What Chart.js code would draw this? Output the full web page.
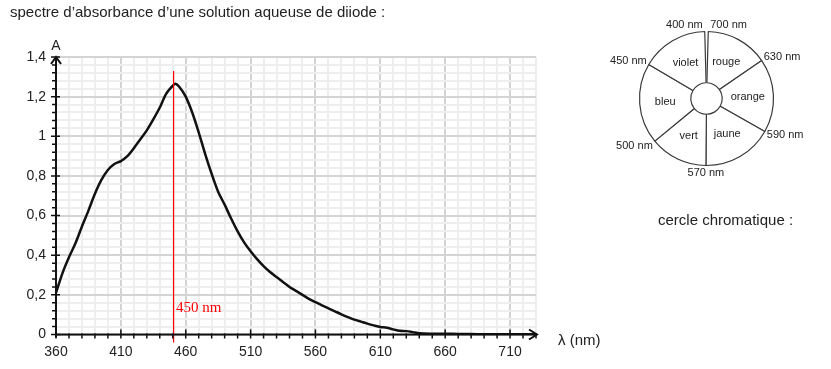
<!DOCTYPE html>
<html>
<head>
<meta charset="utf-8">
<script src="https://cdn.jsdelivr.net/npm/chart.js@4.4.1/dist/chart.umd.min.js"></script>
<style>
  body { margin:0; background:#fff; width:831px; height:369px; overflow:hidden; position:relative; font-family:"Liberation Sans", Arial, sans-serif; color:#222; }
  #spectre { position:absolute; left:0; top:0; }
  #cercle { position:absolute; left:606px; top:0; }
  .txt { position:absolute; font-size:15px; line-height:17px; white-space:nowrap; }
</style>
</head>
<body>
<canvas id="spectre" width="831" height="369"></canvas>
<canvas id="cercle" width="201" height="197"></canvas>
<div class="txt" style="left:10px;top:3px">spectre d’absorbance d’une solution aqueuse de diiode :</div>
<div class="txt" style="left:658px;top:211px">cercle chromatique :</div>
<script>
// spectre
var wavelengths = [360,365,370,375,380,385,390,395,400,405,410,415,420,425,430,435,440,445,450,452,455,460,465,470,475,480,485,490,495,500,505,510,515,520,525,530,535,540,545,550,555,560,565,570,575,580,585,590,595,600,605,610,615,620,625,630,635,640,650,660,670,680,690,700,710,720,730];
var absorbance  = [0.21,0.31,0.39,0.46,0.545,0.625,0.71,0.78,0.83,0.86,0.875,0.9,0.94,0.985,1.03,1.085,1.145,1.215,1.255,1.265,1.25,1.2,1.12,1.02,0.91,0.81,0.72,0.655,0.585,0.52,0.465,0.42,0.38,0.345,0.315,0.29,0.265,0.24,0.22,0.2,0.18,0.163,0.147,0.132,0.117,0.102,0.088,0.075,0.065,0.055,0.046,0.038,0.034,0.026,0.019,0.017,0.012,0.006,0.004,0.004,0.003,0.002,0.001,0.001,0.001,0.001,0.001];

var xTickValues = [360,410,460,510,560,610,660,710];
var yTickValues = [0,0.2,0.4,0.6,0.8,1,1.2,1.4];
var yTickTexts  = ['0','0,2','0,4','0,6','0,8','1','1,2','1,4'];

var peakWavelength = 450;
var peakLabel = '450 nm';

// cercle chromatique
var colorNames = ['rouge','orange','jaune','vert','bleu','violet'];
var sectorSpans = [54,64,61,50,70,58];   // degres
var gapSpan = 3;
var boundaryLabels = ['700 nm','630 nm','590 nm','570 nm','500 nm','450 nm','400 nm'];

function isMajorX(v) { return xTickValues.indexOf(v) >= 0; }
function yIndex(v) {
    for (var i = 0; i < yTickValues.length; i++) {
        if (Math.abs(v - yTickValues[i]) < 1e-6) return i;
    }
    return -1;
}

var axesPlugin = {
    id: 'axes',
    afterDatasetsDraw: function(chart) {
        var ctx = chart.ctx, a = chart.chartArea, xs = chart.scales.x, ys = chart.scales.y;
        ctx.save();
        // trait rouge
        var px = Math.round(xs.getPixelForValue(peakWavelength));
        var top = Math.round(ys.getPixelForValue(1.33));
        ctx.fillStyle = '#ff0000';
        ctx.fillRect(px, top, 1.2, a.bottom + 8 - top);
        ctx.font = '15px "Liberation Serif"';
        ctx.textBaseline = 'middle';
        ctx.fillText(peakLabel, px + 3, ys.getPixelForValue(0.134));

        // axes
        ctx.strokeStyle = '#111';
        ctx.lineWidth = 2;
        ctx.beginPath();
        ctx.moveTo(a.left, a.bottom + 3);
        ctx.lineTo(a.left, a.top);
        ctx.moveTo(a.left, a.bottom);
        ctx.lineTo(a.right + 1, a.bottom);
        ctx.moveTo(a.left - 5, a.top + 7);
        ctx.lineTo(a.left, a.top);
        ctx.lineTo(a.left + 5, a.top + 7);
        ctx.moveTo(a.right - 7, a.bottom - 5);
        ctx.lineTo(a.right + 1, a.bottom);
        ctx.lineTo(a.right - 7, a.bottom + 5);
        ctx.stroke();

        ctx.lineWidth = 1.5;
        ctx.beginPath();
        xs.ticks.forEach(function(t) {
            var x = xs.getPixelForValue(t.value);
            if (isMajorX(t.value)) { ctx.moveTo(x, a.bottom - 5); ctx.lineTo(x, a.bottom + 4); }
            else { ctx.moveTo(x, a.bottom - 1); ctx.lineTo(x, a.bottom + 4); }
        });
        ys.ticks.forEach(function(t) {
            var y = ys.getPixelForValue(t.value);
            if (yIndex(t.value) >= 0) { ctx.moveTo(a.left - 5, y); ctx.lineTo(a.left + 4, y); }
            else { ctx.moveTo(a.left - 4, y); ctx.lineTo(a.left + 1, y); }
        });
        ctx.stroke();

        // noms des axes
        ctx.fillStyle = '#222';
        ctx.font = '14px "Liberation Sans"';
        ctx.textAlign = 'center';
        ctx.fillText('A', a.left, a.top - 11);
        ctx.textAlign = 'left';
        ctx.font = '15px "Liberation Sans"';
        ctx.fillText('λ (nm)', a.right + 22, a.bottom + 6);
        ctx.restore();
    }
};

new Chart(document.getElementById('spectre'), {
    type: 'line',
    data: {
        datasets: [{
            data: wavelengths.map(function(w, i) { return { x: w, y: absorbance[i] }; }),
            borderColor: '#111',
            borderWidth: 2.5,
            pointRadius: 0,
            tension: 0.3,
            fill: false
        }]
    },
    options: {
        responsive: false,
        animation: false,
        layout: { padding: { left: 0, top: 57, right: 295, bottom: 0 } },
        plugins: { legend: { display: false }, tooltip: { enabled: false } },
        scales: {
            x: {
                type: 'linear', min: 360, max: 730,
                afterFit: function(s) { s.height = 34.5; },
                border: { display: false },
                grid: {
                    drawTicks: false,
                    lineWidth: 2,
                    color: function(c) { return isMajorX(c.tick.value) ? '#d4d4d4' : '#eeeeee'; }
                },
                ticks: {
                    stepSize: 10, autoSkip: false, maxRotation: 0, padding: 9,
                    color: '#222', font: { family: 'Liberation Sans', size: 14 },
                    callback: function(v) { return isMajorX(v) ? String(v) : ''; }
                }
            },
            y: {
                min: 0, max: 1.4,
                afterFit: function(s) { s.width = 56; },
                border: { display: false },
                grid: {
                    drawTicks: false,
                    lineWidth: 2,
                    color: function(c) { return yIndex(c.tick.value) >= 0 ? '#d4d4d4' : '#eeeeee'; }
                },
                ticks: {
                    stepSize: 0.04, autoSkip: false, padding: 10,
                    color: '#222', font: { family: 'Liberation Sans', size: 14 },
                    callback: function(v) { var i = yIndex(v); return i >= 0 ? yTickTexts[i] : ''; }
                }
            }
        }
    },
    plugins: [axesPlugin]
});

var cercleLabels = {
    id: 'cercleLabels',
    afterDatasetsDraw: function(chart) {
        var ctx = chart.ctx, arcs = chart.getDatasetMeta(0).data;
        ctx.save();
        ctx.font = '11px "Liberation Sans"';
        ctx.fillStyle = '#222';
        ctx.textAlign = 'center';
        ctx.textBaseline = 'middle';
        for (var i = 1; i < arcs.length; i++) {
            var p = arcs[i].getCenterPoint();
            ctx.fillText(colorNames[i - 1], p.x, p.y);
        }
        var angles = [];
        for (var j = 1; j < arcs.length; j++) angles.push(arcs[j].startAngle);
        angles.push(arcs[arcs.length - 1].endAngle);
        var cx = arcs[1].x, cy = arcs[1].y, r = arcs[1].outerRadius;
        angles.forEach(function(ang, k) {
            var x = cx + r * Math.cos(ang), y = cy + r * Math.sin(ang);
            var dx = 0;
            if (Math.sin(ang) > 0.95) ctx.textAlign = 'center';
            else if (Math.cos(ang) >= 0) { ctx.textAlign = 'left'; dx = 2; }
            else { ctx.textAlign = 'right'; dx = -2; }
            ctx.fillText(boundaryLabels[k], x + dx, y + 7 * Math.sin(ang));
        });
        ctx.restore();
    }
};

new Chart(document.getElementById('cercle'), {
    type: 'doughnut',
    data: {
        labels: [''].concat(colorNames),
        datasets: [{
            data: [gapSpan].concat(sectorSpans),
            backgroundColor: '#ffffff',
            borderColor: '#3a3a3a',
            borderWidth: [0, 1.2, 1.2, 1.2, 1.2, 1.2, 1.2]
        }]
    },
    options: {
        responsive: false,
        animation: false,
        rotation: -gapSpan / 2,
        radius: 67,
        cutout: 23,
        layout: { padding: 0 },
        plugins: { legend: { display: false }, tooltip: { enabled: false } }
    },
    plugins: [cercleLabels]
});
</script>
</body>
</html>
